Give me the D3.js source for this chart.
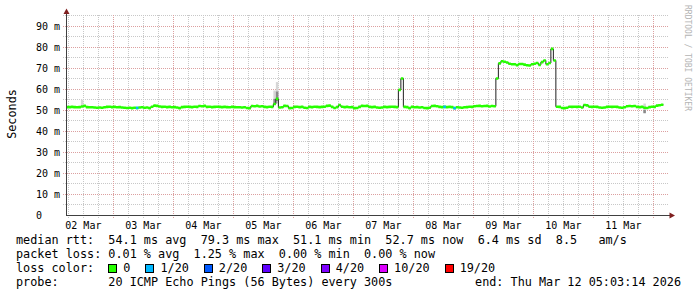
<!DOCTYPE html>
<html>
<head>
<meta charset="utf-8">
<script src="https://cdn.jsdelivr.net/npm/d3@7"></script>
<style>
html, body { margin: 0; padding: 0; background: #fff; }
svg { display: block; }
text { font-family: "DejaVu Sans Mono", monospace; white-space: pre; }
</style>
</head>
<body>
<svg width="697" height="297"></svg>
<script>
// graph window and hourly median rtt (ms), first sample starts 02 Mar 05:00 UTC
const rangeStart = "2026-03-02T05:03:14Z";
const rangeEnd = "2026-03-12T05:03:14Z";
const firstSample = "2026-03-02T05:00:00Z";

const median = [
  51.6, 51.6, 51.7, 51.6, 51.5, 51.6, 51.9, 52.2, 51.6, 51.5,
  51.5, 51.4, 51.3, 51.4, 51.3, 51.5, 51.7, 51.8, 51.6, 51.7,
  51.5, 51.6, 51.4, 51.3, 51.2, 51.3, 51.1, 51.3, 51.2, 51.4,
  51.5, 51.3, 51.4, 51.1, 51.8, 52.3, 52.2, 51.9, 51.7, 51.8,
  51.6, 51.7, 51.5, 51.6, 51.4, 51.1, 51.6, 51.7, 51.8, 51.7,
  51.6, 51.8, 51.7, 52.1, 52.0, 52.2, 51.7, 51.8, 51.6, 51.7,
  51.8, 51.7, 51.6, 51.7, 51.6, 51.5, 51.7, 51.6, 51.5, 51.5,
  51.4, 51.5, 51.2, 51.1, 52.1, 52.0, 52.2, 51.9, 52.0, 51.7,
  51.6, 51.8, 51.7, 53.1, 55.5, 51.4, 51.5, 52.2, 52.1, 51.1,
  51.2, 51.7, 51.8, 51.6, 51.7, 51.3, 51.2, 51.7, 51.6, 51.8,
  51.7, 51.6, 51.7, 51.8, 52.2, 52.3, 51.7, 51.2, 51.6, 52.6,
  51.8, 51.6, 51.7, 51.5, 51.6, 51.1, 51.2, 51.7, 52.2, 52.1,
  52.2, 51.7, 51.6, 51.7, 51.4, 51.3, 51.4, 51.7, 51.6, 51.7,
  51.8, 51.7, 51.6, 59.8, 65.2, 51.7, 51.6, 51.1, 51.7, 51.5,
  51.6, 51.4, 51.5, 51.2, 51.1, 51.3, 52.1, 52.2, 52.0, 51.7,
  51.6, 51.7, 51.6, 51.7, 51.6, 51.1, 51.5, 51.4, 51.3, 51.5,
  51.6, 51.8, 51.7, 52.0, 52.1, 52.2, 52.0, 52.1, 52.2, 51.9,
  52.1, 52.0, 65.2, 72.4, 73.4, 73.2, 72.8, 72.2, 72.0, 72.0,
  71.6, 72.1, 72.1, 71.8, 71.5, 71.4, 72.0, 72.2, 72.6, 71.7,
  73.0, 73.8, 72.0, 72.6, 79.3, 73.8, 51.8, 51.7, 51.2, 51.1,
  51.3, 51.8, 51.7, 51.8, 51.7, 51.8, 51.4, 52.6, 52.4, 51.8,
  51.7, 51.8, 51.7, 51.4, 51.3, 51.4, 51.7, 51.8, 51.7, 51.8,
  51.7, 51.4, 51.3, 51.5, 52.0, 52.1, 52.0, 52.1, 51.7, 51.6,
  51.7, 51.3, 51.2, 51.6, 51.8, 51.7, 52.3, 52.5, 52.7
];

// samples with packet loss (index into median, loss class)
const lossIdx = [28, 151, 155];
const lossClass = ["1/20", "1/20", "1/20"];

// smoke: spread of the single pings (light outer range, darker core)
const smokeIdx = [6, 83, 84, 231];
const smokeLo = [51.9, 52.6, 53.4, 48.7];
const smokeHi = [55.1, 59.5, 63.5, 53.3];
const coreIdx = [83, 84, 231];
const coreLo = [53.0, 54.5, 48.7];
const coreHi = [55.5, 59.0, 50.3];

const lossLegend = ["0", "1/20", "2/20", "3/20", "4/20", "10/20", "19/20"];
const lossColors = ["#26ff00", "#00b8ff", "#0059ff", "#5e00ff", "#7e00ff", "#dd00ff", "#ff0000"];

const yTicks = [0, 10, 20, 30, 40, 50, 60, 70, 80, 90];
const dayLabels = ["02 Mar", "03 Mar", "04 Mar", "05 Mar", "06 Mar", "07 Mar", "08 Mar", "09 Mar", "10 Mar", "11 Mar"];

const legendLines = [
  "median rtt:  54.1 ms avg  79.3 ms max  51.1 ms min  52.7 ms now  6.4 ms sd  8.5   am/s",
  "packet loss: 0.01 % avg  1.25 % max  0.00 % min  0.00 % now",
  "loss color:",
  "probe:       20 ICMP Echo Pings (56 Bytes) every 300s"
];
const endLabel = "end: Thu Mar 12 05:03:14 2026";

const svg = d3.select("svg");
const t0 = new Date(rangeStart), t1 = new Date(rangeEnd);
const x = d3.scaleUtc().domain([t0, t1]).range([66, 666]);
const y = d3.scaleLinear().domain([0, 95.2]).range([215.5, 15.5]);
const crisp = v => Math.floor(v) + 0.5;

const colorOf = d3.scaleOrdinal().domain(lossLegend).range(lossColors);

// grid
const gMinor = svg.append("g").attr("stroke", "#c8c8c8").attr("stroke-dasharray", "1,1");
d3.utcHour.every(6).range(t0, t1).forEach(t => {
  gMinor.append("line").attr("x1", crisp(x(t))).attr("x2", crisp(x(t))).attr("y1", 15).attr("y2", 218);
});
y.ticks(20).filter(v => v > 0).forEach(v => {
  gMinor.append("line").attr("y1", crisp(y(v))).attr("y2", crisp(y(v))).attr("x1", 63).attr("x2", 668);
});
const gMajor = svg.append("g").attr("stroke", "#dca0a0").attr("stroke-dasharray", "1,1");
d3.utcDay.range(t0, t1).forEach(t => {
  gMajor.append("line").attr("x1", crisp(x(t))).attr("x2", crisp(x(t))).attr("y1", 15).attr("y2", 218);
});
yTicks.filter(v => v > 0).forEach(v => {
  gMajor.append("line").attr("y1", crisp(y(v))).attr("y2", crisp(y(v))).attr("x1", 63).attr("x2", 668);
});

// data
svg.append("clipPath").attr("id", "plot").append("rect")
  .attr("x", 66).attr("y", 15).attr("width", 602).attr("height", 201);
const plot = svg.append("g").attr("clip-path", "url(#plot)");

const s0 = new Date(firstSample);
const samples = median.map((v, i) => ({ t: d3.utcHour.offset(s0, i), t2: d3.utcHour.offset(s0, i + 1), v }));
const stepPts = samples.concat([{ t: samples[samples.length - 1].t2, v: samples[samples.length - 1].v }]);

function sampleRect(g, idx, lo, hi, fill) {
  const d = samples[idx];
  g.append("rect")
    .attr("x", x(d.t)).attr("width", x(d.t2) - x(d.t))
    .attr("y", y(hi)).attr("height", y(lo) - y(hi))
    .attr("fill", fill);
}
smokeIdx.forEach((idx, k) => sampleRect(plot, idx, smokeLo[k], smokeHi[k], "#d6d6d6"));
coreIdx.forEach((idx, k) => sampleRect(plot, idx, coreLo[k], coreHi[k], "#8a8a8a"));

plot.append("path")
  .datum(stepPts)
  .attr("fill", "none")
  .attr("stroke", "#202020")
  .attr("stroke-width", 1)
  .attr("d", d3.line().curve(d3.curveStepAfter).x(d => x(d.t)).y(d => y(d.v)));

plot.append("path")
  .datum(stepPts)
  .attr("fill", colorOf("0"))
  .attr("d", d3.area().curve(d3.curveStepAfter)
    .x(d => x(d.t)).y0(d => y(d.v) + 1.3).y1(d => y(d.v) - 1.3));

lossIdx.forEach((idx, k) => {
  const d = samples[idx];
  plot.append("rect")
    .attr("x", x(d.t)).attr("width", x(d.t2) - x(d.t))
    .attr("y", y(d.v) - 1.3).attr("height", 2.6)
    .attr("fill", colorOf(lossClass[k]));
});

// axes
svg.append("line").attr("x1", 66.5).attr("x2", 66.5).attr("y1", 216).attr("y2", 11)
  .attr("stroke", "#404040");
svg.append("line").attr("x1", 66).attr("x2", 671).attr("y1", 215.5).attr("y2", 215.5)
  .attr("stroke", "#404040");
svg.append("path").attr("d", "M66.5,8.5L69.5,14L63.5,14Z").attr("fill", "#7f1f1f");
svg.append("path").attr("d", "M675,215.5L669.5,212.5L669.5,218.5Z").attr("fill", "#7f1f1f");

// tick labels
yTicks.forEach(v => {
  svg.append("text").attr("x", 36).attr("y", y(v) + 3.5)
    .attr("font-size", 10).attr("fill", "#000")
    .text(v === 0 ? "0" : v + " m");
});
const parseDay = d3.utcParse("%d %b %Y");
dayLabels.forEach(lbl => {
  const noon = d3.utcHour.offset(parseDay(lbl + " 2026"), 12);
  svg.append("text").attr("x", x(noon)).attr("y", 229)
    .attr("font-size", 10).attr("text-anchor", "middle").attr("fill", "#000")
    .text(lbl);
});

svg.append("text")
  .attr("transform", "translate(15.5,114) rotate(-90)")
  .attr("font-size", 11.8).attr("text-anchor", "middle").attr("fill", "#000")
  .text("Seconds");

svg.append("text")
  .attr("transform", "translate(684.5,5) rotate(90)")
  .attr("font-size", 8).attr("fill", "#b4b4b4")
  .text("RRDTOOL / TOBI OETIKER");

// legend
const fs = 11.8, charW = fs * 0.602;
const baselines = [244, 258, 272, 286];
legendLines.forEach((line, i) => {
  svg.append("text").attr("x", 16).attr("y", baselines[i])
    .attr("font-size", fs).attr("fill", "#000").text(line);
});
svg.append("text").attr("x", 681).attr("y", baselines[3])
  .attr("font-size", fs).attr("text-anchor", "end").attr("fill", "#000").text(endLabel);

let lx = 16 + 13 * charW;
lossLegend.forEach(lbl => {
  svg.append("rect").attr("x", Math.round(lx) + 0.5).attr("y", 264.5)
    .attr("width", 8).attr("height", 8)
    .attr("fill", colorOf(lbl)).attr("stroke", "#000");
  svg.append("text").attr("x", lx + 15).attr("y", baselines[2])
    .attr("font-size", fs).attr("fill", "#000").text(lbl);
  lx += 15 + lbl.length * charW + 15;
});
</script>
</body>
</html>
